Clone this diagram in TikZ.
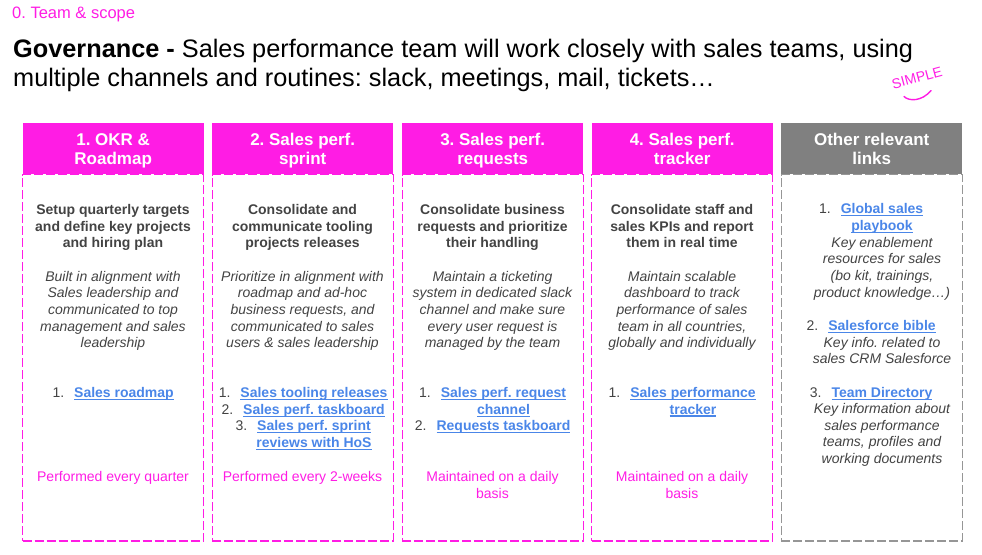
\documentclass[tikz,border=0pt]{standalone}
\usepackage{fontspec}
\setmainfont{Liberation Sans}
\usepackage{graphicx}
\frenchspacing
\definecolor{spmagenta}{RGB}{255,28,228}
\definecolor{spgray}{RGB}{128,128,128}
\definecolor{spdash}{RGB}{150,150,150}
\definecolor{sptext}{RGB}{67,67,67}
\definecolor{splink}{RGB}{74,134,232}
\usetikzlibrary{positioning}

\newcommand{\bodyfont}{\fontsize{14}{16.65}\selectfont}
\newcommand{\lnk}[1]{{\bfseries\color{splink}\setbox0\hbox{#1}\rlap{\rule[-2.6pt]{\wd0}{1.1pt}}\box0}}
\newcommand{\itm}[1]{\llap{\color{sptext}\mdseries #1.\hspace{10pt}}}
\newcommand{\nt}[1]{{\itshape #1}}

\begin{document}
\begin{tikzpicture}[x=1pt, y=-1pt,
  hdr/.style={fill=spmagenta, text=white, minimum width=181pt, minimum height=51pt,
    text height=32.6pt, text depth=0pt,
    inner sep=0pt, anchor=north west, align=center, font=\fontsize{17}{19.5}\selectfont\bfseries},
  colbox/.style={draw=spmagenta, dash pattern=on 9pt off 3pt, line width=1.2pt,
    minimum width=181pt, minimum height=366.5pt, inner sep=0pt},
  desc/.style={anchor=north, align=center, inner sep=0pt, text=sptext, font=\bodyfont\bfseries},
  note/.style={anchor=north, align=center, inner sep=0pt, text=sptext, font=\bodyfont\itshape},
  links/.style={anchor=north, align=center, inner sep=0pt, text=sptext, font=\bodyfont},
  freq/.style={anchor=north, align=center, inner sep=0pt, text=spmagenta, font=\bodyfont}]

\useasboundingbox (0,0) rectangle (982,554);

% Page title
\node[anchor=base west, inner sep=0pt, text=spmagenta, font=\fontsize{16.5}{19}\selectfont] (scope) at (12,18) {0. Team \& scope};
\node[anchor=north west, inner sep=0pt, align=left, font=\fontsize{25.3}{29}\selectfont] (title) at (13,39) 
  {\textbf{Governance -} Sales performance team will work closely with sales teams, using\\
   multiple channels and routines: slack, meetings, mail, tickets…};

% Simple doodle
\node[rotate=15, inner sep=0pt, text=spmagenta, font=\fontsize{14}{14}\selectfont] (simple) at (917,78) {SIMPLE};
\coordinate (sm1) at (904,96.5);
\coordinate (sm2) at (931,90.5);
\draw[spmagenta, line width=1.4pt, line cap=round] (sm1) .. controls (909,101.5) and (922,101.5) .. (sm2);

% 1. OKR & Roadmap
\node[hdr] (hd1) at (22.5,122.5) {1. OKR \&\\Roadmap};
\node[colbox, below=0pt of hd1] (col1) {};
\node[desc] (desc1) at (113,204.3) {Setup quarterly targets\\and define key projects\\and hiring plan};
\node[note] (note1) at (113,271) {Built in alignment with\\Sales leadership and\\communicated to top\\management and sales\\leadership};
\node[links] (links1) at (124,387) {\itm{1}\lnk{Sales roadmap}};
\node[freq] (freq1) at (113,471.5) {Performed every quarter};

% 2. Sales perf. sprint
\node[hdr] (hd2) at (212,122.5) {2. Sales perf.\\sprint};
\node[colbox, below=0pt of hd2] (col2) {};
\node[desc] (desc2) at (302.5,204.3) {Consolidate and\\communicate tooling\\projects releases};
\node[note] (note2) at (302.5,271) {Prioritize in alignment with\\roadmap and ad-hoc\\business requests, and\\communicated to sales\\users \& sales leadership};
\node[links] (links2) at (314,387) {\itm{1}\lnk{Sales tooling releases}\\\itm{2}\lnk{Sales perf. taskboard}\\\itm{3}\lnk{Sales perf. sprint}\\\lnk{reviews with HoS}};
\node[freq] (freq2) at (302.5,471.5) {Performed every 2-weeks};

% 3. Sales perf. requests
\node[hdr] (hd3) at (402,122.5) {3. Sales perf.\\requests};
\node[colbox, below=0pt of hd3] (col3) {};
\node[desc] (desc3) at (492.5,204.3) {Consolidate business\\requests and prioritize\\their handling};
\node[note] (note3) at (492.5,271) {Maintain a ticketing\\system in dedicated slack\\channel and make sure\\every user request is\\managed by the team};
\node[links] (links3) at (503.5,387) {\itm{1}\lnk{Sales perf. request}\\\lnk{channel}\\\itm{2}\lnk{Requests taskboard}};
\node[freq] (freq3) at (492.5,471.5) {Maintained on a daily\\basis};

% 4. Sales perf. tracker
\node[hdr] (hd4) at (591.5,122.5) {4. Sales perf.\\tracker};
\node[colbox, below=0pt of hd4] (col4) {};
\node[desc] (desc4) at (682,204.3) {Consolidate staff and\\sales KPIs and report\\them in real time};
\node[note] (note4) at (682,271) {Maintain scalable\\dashboard to track\\performance of sales\\team in all countries,\\globally and individually};
\node[links] (links4) at (693,387) {\itm{1}\lnk{Sales performance}\\\lnk{tracker}};
\node[freq] (freq4) at (682,471.5) {Maintained on a daily\\basis};

% Other relevant links (grey)
\node[hdr, fill=spgray] (hd5) at (781,122.5) {Other relevant\\links};
\node[colbox, draw=spdash, below=0pt of hd5] (col5) {};
\node[links] (links5) at (882,203.5) {\itm{1}\lnk{Global sales}\\\lnk{playbook}\\\nt{Key enablement}\\\nt{resources for sales}\\\nt{(bo kit, trainings,}\\\nt{product knowledge…)}\\[16.65pt]
  \itm{2}\lnk{Salesforce bible}\\\nt{Key info. related to}\\\nt{sales CRM Salesforce}\\[16.65pt]
  \itm{3}\lnk{Team Directory}\\\nt{Key information about}\\\nt{sales performance}\\\nt{teams, profiles and}\\\nt{working documents}};

\end{tikzpicture}
\end{document}
